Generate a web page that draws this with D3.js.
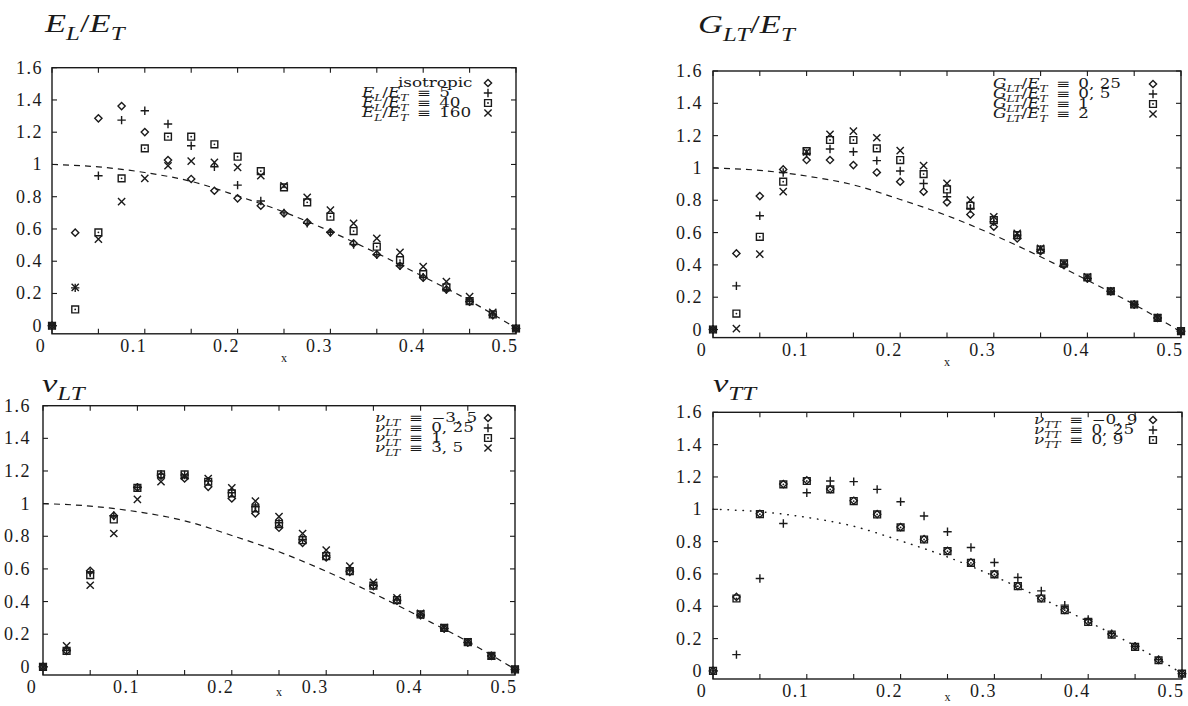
<!DOCTYPE html>
<html>
<head>
<meta charset="utf-8">
<script src="https://cdnjs.cloudflare.com/ajax/libs/d3/7.8.5/d3.min.js"></script>
<style>
  body { margin: 0; background: #fff; }
  svg { display: block; }
  svg text { font-family: "Liberation Serif", "DejaVu Serif", serif; }
  svg text.key { font-family: "DejaVu Serif", "Liberation Serif", serif; }
</style>
</head>
<body>
<div id="chart"></div>
<script>
// x positions of the samples (same for all four panels)
const xValues = [0, 0.025, 0.05, 0.075, 0.1, 0.125, 0.15, 0.175, 0.2, 0.225, 0.25,
                 0.275, 0.3, 0.325, 0.35, 0.375, 0.4, 0.425, 0.45, 0.475, 0.5];

// reference curve drawn dashed (dotted in the last panel)
const refX = [0, 0.05, 0.1, 0.15, 0.2, 0.25, 0.3, 0.35, 0.4, 0.45, 0.5];
const refY = [1, 0.985, 0.95, 0.895, 0.805, 0.705, 0.585, 0.45, 0.305, 0.155, -0.015];

const xTicks = [0, 0.05, 0.1, 0.15, 0.2, 0.25, 0.3, 0.35, 0.4, 0.45, 0.5];
const xTickLabels = [0, 0.1, 0.2, 0.3, 0.4, 0.5];
const yTicks = [0, 0.2, 0.4, 0.6, 0.8, 1, 1.2, 1.4, 1.6];

// E_L / E_T
const elIsotropic = [0, 0.577, 1.286, 1.362, 1.201, 1.027, 0.910, 0.837, 0.790, 0.744, 0.697, 0.641, 0.579, 0.511, 0.442, 0.372, 0.298, 0.225, 0.149, 0.066, -0.017];
const el5   = [0, 0.235, 0.930, 1.275, 1.333, 1.251, 1.116, 0.986, 0.872, 0.773, 0.700, 0.635, 0.580, 0.504, 0.440, 0.372, 0.300, 0.225, 0.150, 0.066, -0.017];
const el40  = [0, 0.101, 0.579, 0.914, 1.100, 1.172, 1.172, 1.125, 1.048, 0.959, 0.858, 0.765, 0.676, 0.587, 0.490, 0.407, 0.320, 0.238, 0.153, 0.070, -0.017];
const el160 = [0, 0.238, 0.537, 0.769, 0.914, 0.992, 1.021, 1.013, 0.982, 0.930, 0.868, 0.796, 0.717, 0.635, 0.542, 0.455, 0.366, 0.273, 0.180, 0.083, -0.017];

// G_LT / E_T
const glt025 = [0, 0.471, 0.826, 0.991, 1.049, 1.049, 1.018, 0.972, 0.915, 0.853, 0.787, 0.712, 0.636, 0.564, 0.485, 0.398, 0.316, 0.237, 0.155, 0.072, -0.010];
const glt05  = [0, 0.270, 0.704, 0.972, 1.090, 1.117, 1.100, 1.045, 0.981, 0.904, 0.822, 0.749, 0.667, 0.584, 0.495, 0.403, 0.316, 0.237, 0.155, 0.072, -0.010];
const glt1   = [0, 0.099, 0.574, 0.915, 1.104, 1.173, 1.173, 1.121, 1.049, 0.962, 0.867, 0.766, 0.677, 0.584, 0.495, 0.409, 0.322, 0.237, 0.155, 0.072, -0.010];
const glt2   = [0, 0.006, 0.467, 0.853, 1.100, 1.208, 1.228, 1.187, 1.107, 1.014, 0.904, 0.801, 0.698, 0.595, 0.502, 0.409, 0.326, 0.239, 0.155, 0.072, -0.010];

// nu_LT
const nuLTm35 = [0, 0.098, 0.588, 0.926, 1.099, 1.171, 1.154, 1.103, 1.032, 0.940, 0.852, 0.760, 0.670, 0.582, 0.494, 0.405, 0.317, 0.235, 0.149, 0.067, -0.016];
const nuLT025 = [0, 0.102, 0.576, 0.926, 1.100, 1.181, 1.175, 1.138, 1.067, 0.981, 0.883, 0.780, 0.680, 0.588, 0.500, 0.409, 0.317, 0.235, 0.149, 0.067, -0.016];
const nuLT1   = [0, 0.098, 0.562, 0.903, 1.097, 1.179, 1.179, 1.134, 1.063, 0.971, 0.875, 0.776, 0.678, 0.586, 0.497, 0.409, 0.321, 0.239, 0.151, 0.067, -0.016];
const nuLT35  = [0, 0.129, 0.500, 0.817, 1.026, 1.134, 1.169, 1.154, 1.097, 1.016, 0.920, 0.817, 0.715, 0.617, 0.517, 0.423, 0.327, 0.241, 0.153, 0.067, -0.016];

// nu_TT
const nuTTm09 = [0, 0.458, 0.972, 1.156, 1.179, 1.125, 1.053, 0.970, 0.890, 0.815, 0.743, 0.671, 0.599, 0.526, 0.450, 0.378, 0.305, 0.227, 0.151, 0.068, -0.017];
const nuTT025 = [0, 0.101, 0.572, 0.912, 1.102, 1.175, 1.171, 1.123, 1.047, 0.958, 0.861, 0.764, 0.671, 0.578, 0.495, 0.407, 0.318, 0.231, 0.153, 0.070, -0.017];
const nuTT09  = [0, 0.448, 0.970, 1.154, 1.175, 1.123, 1.051, 0.968, 0.888, 0.813, 0.741, 0.669, 0.597, 0.524, 0.448, 0.376, 0.303, 0.225, 0.149, 0.066, -0.017];

// legend values
const elLabels  = ["5", "40", "160"];
const gltLabels = ["0, 25", "0, 5", "1", "2"];
const nuLTLabels = ["\u22123, 5", "0, 25", "1", "3, 5"];
const nuTTLabels = ["\u22120, 9", "0, 25", "0, 9"];

// math pieces: [text, kind]  kind: i = italic, sub = italic subscript, r = roman
const elName  = [["E", "i"], ["L", "sub"], ["/", "r"], ["E", "i"], ["T", "sub"]];
const gltName = [["G", "i"], ["LT", "sub"], ["/", "r"], ["E", "i"], ["T", "sub"]];
const nuLTName = [["\u03bd", "i"], ["LT", "sub"]];
const nuTTName = [["\u03bd", "i"], ["TT", "sub"]];

const W = 1188, H = 706;
const ink = "#1a1a1a";

const svg = d3.select("#chart").append("svg")
    .attr("width", W)
    .attr("height", H);

function eq(name, v) { return name.concat([["\u2002\u2261\u2002" + v, "r"]]); }

const panels = [
  { name: elName, x0: 52, x1: 516, y0: 67.7, y1: 333.8, titleX: 45, titleY: 32,
    series: [elIsotropic, el5, el40, el160],
    labels: [[["isotropic", "r"]]].concat(elLabels.map(v => eq(elName, v))),
    symbols: ["diamond", "plus", "square", "cross"],
    legend: { textX: 362, symX: 488, y: 87, indent: [36, 0, 0, 0] },
    xLabelY: 362, yGap: 9, curve: "dash" },
  { name: gltName, x0: 713, x1: 1181, y0: 71, y1: 337.6, titleX: 698, titleY: 33,
    series: [glt025, glt05, glt1, glt2],
    labels: gltLabels.map(v => eq(gltName, v)),
    symbols: ["diamond", "plus", "square", "cross"],
    legend: { textX: 993, symX: 1153, y: 88, indent: [0, 0, 0, 0] },
    xLabelY: 366, yGap: 10, curve: "dash" },
  { name: nuLTName, x0: 43, x1: 515, y0: 405.7, y1: 675, titleX: 42, titleY: 392,
    series: [nuLTm35, nuLT025, nuLT1, nuLT35],
    labels: nuLTLabels.map(v => eq(nuLTName, v)),
    symbols: ["diamond", "plus", "square", "cross"],
    legend: { textX: 375, symX: 488, y: 422, indent: [0, 0, 0, 0] },
    xLabelY: 696, yGap: 12, curve: "dash" },
  { name: nuTTName, x0: 713, x1: 1182, y0: 412.3, y1: 679, titleX: 713, titleY: 392,
    series: [nuTTm09, nuTT025, nuTT09],
    labels: nuTTLabels.map(v => eq(nuTTName, v)),
    symbols: ["diamond", "plus", "square"],
    legend: { textX: 1034, symX: 1153, y: 424, indent: [0, 0, 0] },
    xLabelY: 701, yGap: 10, curve: "dot" }
];

function markerPath(type) {
  if (type === "diamond") { const r = 3.6; return `M0,${-r}L${r},0L0,${r}L${-r},0Z`; }
  if (type === "plus")    { const r = 4.2; return `M${-r},0H${r}M0,${-r}V${r}`; }
  if (type === "square")  { const r = 3.4; return `M${-r},${-r}H${r}V${r}H${-r}Z`; }
  const r = 3.6; return `M${-r},${-r}L${r},${r}M${-r},${r}L${r},${-r}`;
}

function drawMarker(g, type, x, y) {
  g.append("path")
      .attr("transform", `translate(${x},${y})`)
      .attr("d", markerPath(type))
      .attr("fill", "none")
      .attr("stroke", ink)
      .attr("stroke-width", 1.4);
  if (type === "square") {
    g.append("circle").attr("cx", x).attr("cy", y).attr("r", 0.9).attr("fill", ink);
  }
}

// draws a small formula; sx stretches it horizontally like the scanned original
function mathText(g, parts, size, x, y, sx, cls) {
  const t = g.append("text")
      .attr("class", cls || null)
      .attr("transform", `translate(${x},${y}) scale(${sx},1)`)
      .attr("fill", ink)
      .style("font-size", size + "px");
  let down = false;
  parts.forEach(([s, kind]) => {
    const sp = t.append("tspan").text(s);
    if (kind === "sub") {
      sp.style("font-size", (size * 0.72) + "px").style("font-style", "italic");
      if (!down) { sp.attr("dy", size * 0.3); down = true; }
    } else {
      if (down) { sp.attr("dy", -size * 0.3); down = false; }
      if (kind === "i") sp.style("font-style", "italic");
    }
  });
  return t;
}

panels.forEach(p => {
  const g = svg.append("g");

  const xScale = d3.scaleLinear().domain([0, 0.5]).range([p.x0, p.x1]);
  const yScale = d3.scaleLinear().domain([-0.05, 1.6]).range([p.y1, p.y0]);

  // frame
  g.append("rect")
      .attr("x", p.x0).attr("y", p.y0)
      .attr("width", p.x1 - p.x0).attr("height", p.y1 - p.y0)
      .attr("fill", "none").attr("stroke", ink).attr("stroke-width", 1.4);

  // inward ticks on all four sides
  const tl = 5;
  xTicks.forEach(t => {
    const x = xScale(t);
    g.append("line").attr("x1", x).attr("x2", x).attr("y1", p.y0).attr("y2", p.y0 + tl)
        .attr("stroke", ink).attr("stroke-width", 1.1);
    g.append("line").attr("x1", x).attr("x2", x).attr("y1", p.y1).attr("y2", p.y1 - tl)
        .attr("stroke", ink).attr("stroke-width", 1.1);
  });
  yTicks.forEach(t => {
    const y = yScale(t);
    g.append("line").attr("x1", p.x0).attr("x2", p.x0 + tl).attr("y1", y).attr("y2", y)
        .attr("stroke", ink).attr("stroke-width", 1.1);
    g.append("line").attr("x1", p.x1).attr("x2", p.x1 - tl).attr("y1", y).attr("y2", y)
        .attr("stroke", ink).attr("stroke-width", 1.1);
  });

  // tick labels
  g.selectAll(".xl").data(xTickLabels).enter().append("text")
      .attr("x", d => xScale(d) - 11)
      .attr("y", p.y1 + 18)
      .attr("text-anchor", "middle")
      .attr("fill", ink)
      .style("font-size", "18px")
      .style("letter-spacing", "1.5px")
      .text(d => String(d));

  g.selectAll(".yl").data(yTicks).enter().append("text")
      .attr("x", p.x0 - p.yGap)
      .attr("y", d => yScale(d) + 6)
      .attr("text-anchor", "end")
      .attr("fill", ink)
      .style("font-size", "18px")
      .style("letter-spacing", "1.5px")
      .text(d => String(d));

  // axis name
  g.append("text")
      .attr("x", (p.x0 + p.x1) / 2)
      .attr("y", p.xLabelY)
      .attr("text-anchor", "middle")
      .attr("fill", ink)
      .style("font-size", "12px")
      .text("x");

  // title
  mathText(g, p.name, 26, p.titleX, p.titleY, 1.33);

  // reference curve
  const line = d3.line()
      .x((d, i) => xScale(refX[i]))
      .y(d => yScale(d))
      .curve(d3.curveMonotoneX);
  g.append("path")
      .datum(refY)
      .attr("d", line)
      .attr("fill", "none")
      .attr("stroke", ink)
      .attr("stroke-width", p.curve === "dot" ? 1.5 : 1.2)
      .attr("stroke-linecap", p.curve === "dot" ? "round" : "butt")
      .attr("stroke-dasharray", p.curve === "dot" ? "0.5,7" : "6,5");

  // markers
  p.series.forEach((vals, s) => {
    vals.forEach((v, i) => drawMarker(g, p.symbols[s], xScale(xValues[i]), yScale(v)));
  });

  // legend
  p.labels.forEach((lab, i) => {
    const by = p.legend.y + i * 10;
    mathText(g, lab, 12, p.legend.textX + p.legend.indent[i], by, 1.4, "key");
    drawMarker(g, p.symbols[i], p.legend.symX, by - 4);
  });
});
</script>
</body>
</html>
